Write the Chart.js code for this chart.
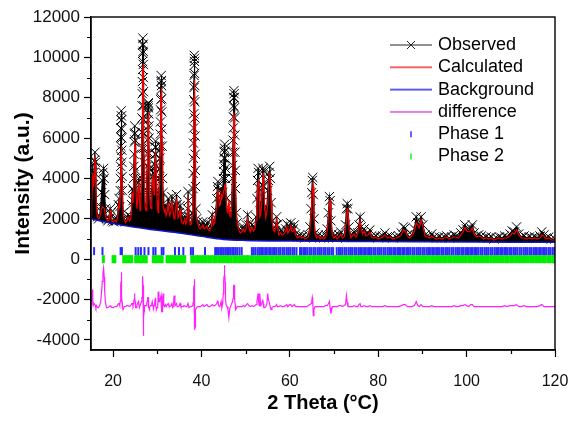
<!DOCTYPE html>
<html><head><meta charset="utf-8">
<script src="https://cdn.jsdelivr.net/npm/chart.js@4/dist/chart.umd.min.js"></script>
<style>html,body{margin:0;padding:0;background:#fff;}canvas{display:block;}</style>
</head><body>
<canvas id="c" width="571" height="424"></canvas>
<script>
// ---- data ----
const twoTheta = [
15.0,15.15,15.3,15.4,15.5,15.6,15.7,15.8,15.9,16.0,
16.1,16.25,16.45,16.7,16.95,17.2,17.4,17.55,17.7,17.85,
18.0,18.1,18.25,18.5,18.8,19.1,19.35,19.5,19.75,20.1,
20.4,20.7,21.0,21.2,21.35,21.5,21.6,21.65,21.7,21.725,21.75,21.775,21.8,21.825,
21.85,21.875,21.9,21.925,21.95,21.975,22.0,22.05,22.1,22.25,22.5,22.8,23.1,23.4,
23.7,24.0,24.2,24.35,24.5,24.6,24.65,24.7,24.75,24.8,24.85,24.9,24.95,25.0,
25.1,25.25,25.4,25.55,25.7,25.8,25.95,26.1,26.25,26.4,
26.48,26.515,26.55,26.575,26.6,26.625,26.65,26.675,26.7,26.725,26.75,26.775,26.8,26.825,26.85,26.875,26.9,26.925,26.95,26.975,
27.0,27.1,27.25,27.45,27.6,27.65,27.7,27.74,27.78,27.815,27.85,27.885,27.92,27.95,27.98,
28.015,28.05,28.085,28.12,28.16,28.2,28.3,28.45,28.6,28.75,28.85,28.95,29.05,
29.15,29.3,29.4,29.45,29.5,29.55,29.6,29.65,29.7,29.75,29.8,29.95,30.1,30.22,
30.35,30.5,30.55,30.6,30.64,30.68,30.715,30.75,30.785,30.82,30.85,30.88,30.915,30.95,30.985,31.02,31.06,31.1,
31.2,31.3,31.45,31.65,31.8,32.0,32.25,32.45,32.6,32.85,
33.1,33.3,33.45,33.65,33.8,34.0,34.2,34.35,34.5,34.7,
34.95,35.15,35.35,35.6,35.85,36.05,36.2,36.45,36.7,36.85,
36.95,37.05,37.2,37.45,37.75,37.95,38.08,38.12,38.16,38.19,38.22,38.245,38.27,38.295,
38.32,38.345,38.37,38.395,38.42,38.445,38.47,38.495,38.52,38.55,38.58,38.615,38.65,38.75,38.9,39.15,
39.45,39.75,40.05,40.3,40.6,40.9,41.25,41.55,41.9,42.2,
42.45,42.7,43.0,43.25,43.45,43.6,43.72,43.85,44.05,44.25,
44.45,44.6,44.8,44.95,45.0,45.05,45.1,45.15,45.2,45.25,45.3,45.35,45.4,45.45,45.6,
45.8,46.0,46.2,46.4,46.65,46.85,47.0,47.05,47.1,47.14,47.18,47.22,47.26,47.3,
47.34,47.38,47.42,47.46,47.5,47.54,47.58,47.64,47.7,47.85,48.1,48.45,48.8,49.15,
49.45,49.8,50.15,50.45,50.7,51.05,51.4,51.75,52.1,52.35,
52.55,52.68,52.8,52.92,53.05,53.2,53.4,53.6,53.75,53.88,
54.0,54.12,54.3,54.55,54.8,55.0,55.15,55.3,55.45,55.6,
55.75,55.95,56.25,56.6,56.85,57.0,57.15,57.5,57.9,58.25,
58.65,59.05,59.3,59.55,59.95,60.2,60.5,60.8,61.0,61.3,
61.75,62.2,62.6,63.0,63.4,63.8,64.2,64.55,64.8,64.95,
65.08,65.18,65.3,65.45,65.7,66.05,66.45,66.85,67.25,67.7,
68.1,68.45,68.75,68.95,69.1,69.3,69.6,69.95,70.3,70.7,
71.1,71.5,71.9,72.3,72.6,72.8,72.98,73.15,73.4,73.8,
74.2,74.55,74.95,75.35,75.65,75.88,76.1,76.45,76.8,77.2,
77.65,78.1,78.5,79.0,79.5,80.0,80.5,81.0,81.5,82.0,
82.7,83.3,84.0,84.6,85.2,85.7,86.1,86.6,87.1,87.6,
88.2,88.6,88.95,89.3,89.7,90.1,90.6,91.1,91.6,92.1,
92.6,93.2,93.8,94.4,95.0,95.5,96.0,96.6,97.2,97.6,
98.2,98.7,99.2,99.6,100.0,100.5,100.9,101.3,101.7,102.2,
102.7,103.3,103.8,104.4,105.0,105.6,106.2,106.8,107.4,108.0,
108.6,109.2,109.8,110.3,110.8,111.3,111.8,112.4,113.0,113.6,
114.2,114.8,115.4,116.0,116.6,117.0,117.5,118.0,118.6,119.2,
120.0];
const observed = [
2300,3000,4400,4700,4100,3700,4300,4900,5300,4800,
3600,2600,2100,2000,2150,2600,3300,3900,4300,4500,
4000,3200,2500,2000,1900,2000,2500,2300,1900,1850,
2000,1900,2100,2700,3000,2600,3400,4000,4600,5100,5600,6050,6500,6900,
7350,7100,6900,6450,6000,5400,4800,4100,3400,2300,2000,1850,2000,2200,
1950,2100,2700,3500,2900,3400,4000,4600,5200,5800,6200,6600,6250,5900,
4400,3000,2600,3100,3800,4000,3000,2500,2800,4000,
5500,6300,7000,7600,8200,8800,9400,9800,10200,10600,10950,10650,10300,9650,9000,8300,7600,6900,6200,5500,
4800,3400,2700,2500,3300,3950,4600,5250,5900,6400,6900,7250,7600,7700,7750,
7500,7200,6600,6000,5250,4500,3300,2700,2600,3300,4100,4500,4100,
3500,3300,4200,4700,5200,5550,5850,5550,5200,4600,4000,2900,2500,3100,
3300,4000,4500,5000,5600,6200,6800,7400,7900,8400,8800,9100,8850,8600,7950,7300,6450,5600,
4000,3300,2600,2400,2600,2200,2500,3000,2500,2200,
2500,3100,2600,2300,2600,2200,2700,3200,2700,2100,
2300,2650,2100,1850,1800,2000,2150,1800,1900,2500,
3350,2900,2100,1750,1800,2300,3500,4250,5000,5750,6500,7200,7900,8500,
9100,9600,10100,9950,9800,9200,8600,7800,7000,6100,5200,4400,3600,2500,2000,1850,
1600,1550,1700,1850,1550,1650,1800,1500,1450,1700,
2200,1800,1900,2400,3000,3600,3850,3400,2700,2800,
3500,3000,3300,4000,4350,4700,5000,5300,5500,5700,5350,5000,4500,4000,3000,
2400,2200,2400,2100,2200,2800,4000,4650,5300,5900,6500,7050,7600,8000,
8350,8200,8000,7500,7000,6150,5300,4400,3500,2300,1800,1500,1350,1400,
1600,1400,1700,2200,1700,1400,1700,1450,1600,2100,
3000,3900,4500,4300,3500,2800,2300,2800,3700,4500,
4400,3600,2500,2100,2600,3400,3900,4300,4600,4000,
2800,1900,1500,1400,1700,2100,1700,1250,1400,1250,
1300,1500,1750,1350,1600,1800,1400,1500,1700,1250,
1100,1200,1100,1150,1050,1100,1200,1600,2500,3300,
3900,4050,3200,2000,1300,1100,1200,1050,1150,1050,
1200,1500,2300,3100,2900,1900,1250,1100,1200,1050,
1200,1350,1100,1200,1700,2500,2750,2500,1600,1100,
1200,1350,1150,1300,1700,2100,1600,1300,1500,1200,
1250,1450,1150,1100,1150,1050,1100,1150,1300,1100,
1150,1050,1100,1150,1300,1600,1550,1200,1100,1200,
1500,2100,1800,1600,2100,1700,1200,1150,1100,1250,
1100,1050,1100,1050,1100,1150,1050,1100,1200,1150,
1100,1300,1450,1700,1500,1400,1550,1700,1300,1150,
1200,1150,1050,1100,1050,1100,1000,1050,1100,1050,
1150,1100,1250,1400,1350,1600,1250,1100,1150,1050,
1100,1050,1100,1050,1150,1350,1200,1050,1100,1000,
1000];
const calculated = [
2150,2700,3600,4300,4000,3600,4100,4700,5100,4700,
3600,2500,2100,2000,2050,2300,2500,2600,2600,2550,
2500,2400,2200,2000,1900,1950,2400,2250,1880,1850,
1950,1850,2000,2500,2800,2500,3100,3550,4000,4350,4700,4950,5200,5400,
5600,5550,5500,5250,5000,4650,4300,3850,3400,2400,1950,1800,1900,2100,
1900,2000,2500,3300,2800,3200,3750,4300,4800,5300,5600,5900,5750,5600,
4400,3000,2500,2900,3500,3800,3000,2400,2700,3700,
5100,5800,6500,7100,7700,8300,8900,9100,9300,9350,9400,9550,9700,9650,9600,9300,9000,8000,7000,6000,
5000,3300,2600,2400,3100,3700,4300,4900,5500,5950,6400,6750,7100,7200,7300,
7150,7000,6500,6000,5300,4600,3300,2600,2500,3100,3800,4200,4000,
3500,3200,3900,4350,4800,5100,5400,5300,5100,4600,4100,2900,2450,2300,
3000,3700,4150,4600,5150,5700,6300,6900,7400,7900,8200,8500,8450,8400,7950,7500,6650,5800,
4000,2600,2500,2350,2450,2150,2350,2800,2400,2150,
2400,2900,2600,2250,2000,2100,2550,3000,2650,2050,
2200,2450,2050,1800,1750,1900,2050,1750,1850,2350,
3100,2800,2100,1700,1750,2200,3300,4000,4700,5350,6000,6550,7100,7600,
8100,8450,8800,8850,8900,8800,8700,8500,8300,7150,6000,4950,3900,2600,2000,1800,
1550,1500,1600,1700,1500,1550,1650,1450,1400,1600,
2050,1700,1800,2250,2800,3300,3500,3300,2650,2700,
3200,3000,3100,3300,3350,3400,3450,3500,3550,3600,3650,3700,3650,3600,2900,
2350,2300,2900,2150,2100,2600,3700,4300,4900,5450,6000,6450,6900,7100,
7250,7100,6900,6400,5900,5400,4900,4250,3600,2350,1750,1450,1300,1350,
1500,1350,1550,2000,1600,1350,1600,1400,1500,1950,
2700,3400,3800,4000,3400,2100,2200,2650,3400,4100,
4200,3600,2500,2050,2400,2700,3500,4000,4300,4000,
2900,1900,1450,1350,1600,1950,1650,1200,1300,1200,
1250,1400,1600,1300,1450,1650,1350,1400,1550,1200,
1050,1150,1050,1100,1000,1050,1100,1450,2300,3000,
3400,3700,3600,2100,1250,1050,1150,1000,1100,1000,
1100,1400,2100,2800,2900,2200,1200,1050,1150,1000,
1100,1250,1050,1100,1550,1900,2500,2450,1550,1050,
1150,1250,1100,1250,1550,1900,1550,1250,1400,1150,
1200,1350,1100,1050,1100,1000,1050,1100,1200,1050,
1100,1000,1050,1100,1200,1450,1400,1150,1050,1150,
1400,1800,1700,1550,1950,1650,1150,1100,1050,1150,
1050,1000,1050,1000,1050,1100,1000,1050,1100,1100,
1050,1200,1350,1550,1400,1350,1400,1550,1250,1100,
1150,1100,1000,1050,1000,1050,950,1000,1050,1000,
1050,1050,1150,1300,1250,1450,1200,1050,1050,1000,
1050,1000,1050,1000,1050,1200,1150,1000,1050,950,
950];
const difference = [
-2250,-2100,-1500,-2000,-2300,-2300,-2200,-2200,-2200,-2300,
-2400,-2300,-2400,-2400,-2300,-2100,-1600,-1100,-700,-450,
-900,-1600,-2100,-2400,-2400,-2350,-2300,-2350,-2380,-2400,
-2350,-2350,-2300,-2200,-2200,-2300,-2100,-1950,-1800,-1650,-1500,-1300,-1100,-900,
-650,-850,-1000,-1200,-1400,-1650,-1900,-2150,-2400,-2500,-2350,-2350,-2300,-2300,
-2350,-2300,-2200,-2200,-2300,-2200,-2150,-2100,-2000,-1900,-1800,-1700,-1900,-2100,
-2400,-2400,-2300,-2200,-2100,-2200,-2400,-2300,-2300,-2100,
-2000,-1900,-1900,-1900,-1900,-1900,-1900,-1700,-1500,-1150,-850,-1300,-1800,-2400,-3000,-3400,-3800,-3500,-3200,-2900,
-2600,-2300,-2300,-2300,-2200,-2150,-2100,-2050,-2000,-1950,-1900,-1900,-1900,-1900,-1950,
-2050,-2200,-2300,-2400,-2450,-2500,-2400,-2300,-2300,-2200,-2100,-2100,-2300,
-2400,-2300,-2100,-2050,-2000,-1950,-1950,-2150,-2300,-2400,-2500,-2400,-2350,-1600,
-2100,-2100,-2050,-2000,-1950,-1900,-1900,-1900,-1900,-1900,-1800,-1800,-2000,-2200,-2400,-2600,-2600,-2600,
-2400,-1700,-2300,-2350,-2250,-2350,-2250,-2200,-2300,-2350,
-2300,-2200,-2400,-2350,-1800,-2300,-2250,-2200,-2350,-2350,
-2300,-2200,-2350,-2350,-2350,-2300,-2300,-2350,-2350,-2250,
-2150,-2300,-2400,-2350,-2350,-2300,-2200,-2150,-2100,-2000,-1900,-1750,-1600,-1450,
-1300,-1150,-1000,-1250,-1500,-2000,-2500,-3100,-3500,-3350,-3200,-2950,-2700,-2500,-2400,-2350,
-2350,-2350,-2300,-2250,-2350,-2300,-2250,-2350,-2350,-2300,
-2250,-2300,-2300,-2250,-2200,-2100,-2050,-2300,-2350,-2300,
-2100,-2400,-2200,-1700,-1400,-1100,-850,-600,-450,-300,-700,-1100,-1550,-2000,-2300,
-2350,-2500,-2900,-2450,-2300,-2200,-2100,-2050,-2000,-1950,-1900,-1800,-1700,-1500,
-1300,-1300,-1300,-1300,-1300,-1650,-2000,-2250,-2500,-2450,-2350,-2350,-2350,-2350,
-2300,-2350,-2250,-2200,-2300,-2350,-2300,-2350,-2300,-2250,
-2100,-1900,-1700,-2100,-2300,-1700,-2300,-2250,-2100,-2000,
-2200,-2400,-2400,-2350,-2200,-1700,-2000,-2100,-2100,-2400,
-2500,-2400,-2350,-2350,-2300,-2250,-2350,-2350,-2300,-2350,
-2350,-2300,-2250,-2350,-2250,-2250,-2350,-2300,-2250,-2350,
-2350,-2350,-2350,-2350,-2350,-2350,-2300,-2250,-2200,-2100,
-1900,-2050,-2800,-2500,-2350,-2350,-2350,-2350,-2350,-2350,
-2300,-2300,-2200,-2100,-2400,-2700,-2350,-2350,-2350,-2350,
-2300,-2300,-2350,-2300,-2250,-1800,-2150,-2350,-2350,-2350,
-2350,-2300,-2350,-2350,-2250,-2200,-2350,-2350,-2300,-2350,
-2350,-2300,-2350,-2350,-2350,-2350,-2350,-2350,-2300,-2350,
-2350,-2350,-2350,-2350,-2300,-2250,-2250,-2350,-2350,-2350,
-2300,-2100,-2300,-2350,-2250,-2350,-2350,-2350,-2350,-2300,
-2350,-2350,-2350,-2350,-2350,-2350,-2350,-2350,-2300,-2350,
-2350,-2300,-2300,-2250,-2300,-2350,-2250,-2250,-2350,-2350,
-2350,-2350,-2350,-2350,-2350,-2350,-2350,-2350,-2350,-2350,
-2300,-2350,-2300,-2300,-2300,-2250,-2350,-2350,-2300,-2350,
-2350,-2350,-2350,-2350,-2300,-2250,-2350,-2350,-2350,-2350,
-2350];
const bgTheta = [15,20,25,30,35,40,45,50,60,70,80,90,100,110,120];
const background = [2000,1770,1580,1430,1300,1130,980,930,900,885,870,860,850,840,835];
const phase1Theta = [15.7,17.6,21.7,22.0,25.1,25.7,26.3,27.1,28.0,29.1,29.6,31.0,31.4,34.0,34.9,35.9,37.6,38.1,40.8,
43.1,43.5,43.9,44.3,44.6,45.0,45.4,45.8,46.2,46.6,47.0,47.3,47.7,48.1,48.6,49.1,
51.4,51.8,52.2,52.7,53.1,53.5,53.9,54.4,54.8,55.3,55.7,56.2,56.6,57.0,57.5,57.9,58.4,58.8,59.3,59.7,
60.1,60.6,61.0,61.5,62.3,62.7,63.2,63.6,64.0,64.5,64.9,65.4,65.8,66.3,66.7,67.1,67.6,68.0,68.5,68.9,
69.4,69.8,70.6,71.1,71.5,71.9,72.4,72.8,73.3,73.7,74.1,74.6,75.0,75.5,75.9,76.3,76.8,77.2,77.7,78.1,
78.5,79.0,79.4,79.9,80.3,80.7,81.2,81.6,82.1,82.5,82.9,83.4,83.8,84.3,84.7,85.1,85.6,86.0,86.5,86.9,
87.3,87.8,88.2,88.7,89.1,89.5,90.0,90.4,90.9,91.3,91.7,92.2,92.6,93.1,93.5,93.9,94.4,94.8,95.3,95.7,
96.1,96.6,97.0,97.5,97.9,98.3,98.8,99.2,99.7,100.1,100.5,101.0,101.4,101.9,102.3,102.7,103.2,103.6,104.1,
104.5,104.9,105.4,105.8,106.3,106.7,107.1,107.6,108.0,108.5,108.9,109.3,109.8,110.2,110.7,111.1,111.5,
112.0,112.4,112.9,113.3,113.7,114.2,114.6,115.1,115.5,115.9,116.4,116.8,117.3,117.7,118.1,118.6,119.0,119.5,119.9];
const phase2Theta = [17.8,20.0,20.4,22.4,22.9,23.3,23.8,24.2,25.1,25.5,26.0,26.5,27.0,27.5,29.1,29.6,30.1,30.6,31.1,
32.2,32.7,33.2,33.7,34.2,34.7,35.2,35.7,36.2,
37.8,38.3,38.9,39.4,40.0,40.6,41.1,41.7,42.2,42.8,43.3,43.9,44.5,45.0,45.6,46.1,46.7,47.3,47.8,48.4,
48.9,49.5,50.1,50.6,51.2,51.7,52.3,52.9,53.4,54.0,54.5,55.1,55.7,56.2,56.8,57.3,57.9,58.5,59.0,59.6,
60.1,60.7,61.3,61.8,62.4,62.9,63.5,64.1,64.6,65.2,65.7,66.3,66.9,67.4,68.0,68.5,69.1,69.7,70.2,70.8,
71.3,71.9,72.5,73.0,73.6,74.1,74.7,75.3,75.8,76.4,76.9,77.5,78.1,78.6,79.2,79.7,80.3,80.9,81.4,82.0,
82.5,83.1,83.7,84.2,84.8,85.3,85.9,86.5,87.0,87.6,88.1,88.7,89.3,89.8,90.4,90.9,91.5,92.1,92.6,93.2,
93.7,94.3,94.9,95.4,96.0,96.5,97.1,97.7,98.2,98.8,99.3,99.9,100.5,101.0,101.6,102.1,102.7,103.3,103.8,
104.4,104.9,105.5,106.1,106.6,107.2,107.7,108.3,108.9,109.4,110.0,110.5,111.1,111.7,112.2,112.8,113.3,
113.9,114.5,115.0,115.6,116.1,116.7,117.3,117.8,118.4,118.9,119.5,119.9];
const phase1Level = 400;
const phase2Level = 0;
const xMajor = [20,40,60,80,100,120];
const xMinor = [30,50,70,90,110];
const yMajor = [-4000,-2000,0,2000,4000,6000,8000,10000,12000];
const yMinor = [-3000,-1000,1000,3000,5000,7000,9000,11000];
const labels = ['Observed','Calculated','Background','difference','Phase 1','Phase 2'];

// ---- build ----
const FONT = "'Liberation Sans', Arial, Helvetica, sans-serif";
const C_OBS='#000000', C_CALC='#ee0000', C_BG='#1212d0', C_DIFF='#ff22ff', C_P1='#2a2aff', C_P2='#00ee00';

function sample(draw){const c=document.createElement('canvas');c.width=42;c.height=14;const g=c.getContext('2d');draw(g);return c;}
function hline(col,w){return sample(g=>{g.strokeStyle=col;g.lineWidth=w;g.beginPath();g.moveTo(0,7);g.lineTo(42,7);g.stroke();});}
function vtick(col,w){return sample(g=>{g.strokeStyle=col;g.lineWidth=w;g.beginPath();g.moveTo(21,4);g.lineTo(21,10);g.stroke();});}
const samples = [
  sample(g=>{g.strokeStyle='#222';g.lineWidth=1;g.beginPath();g.moveTo(0,7);g.lineTo(42,7);g.moveTo(17,3);g.lineTo(25,11);g.moveTo(25,3);g.lineTo(17,11);g.stroke();}),
  hline('#ee3030',1.6), hline('#2a2ae0',1.6), hline('#e050e0',1.6), vtick('#3030ff',1.5), vtick('#22ee22',1.5)
];

const pts = (xs, ys) => xs.map((x,i)=>({x, y: ys[i]}));
const flat = (xs, v) => xs.map(x=>({x, y: v}));

const framePlugin = {
  id: 'frame',
  afterLayout(chart){
    const lg = chart.legend; if(!lg) return;
    const pad = lg.options.labels.padding;
    lg.left = 393 - pad; lg.right = lg.left + lg.width;
    lg.top = 36 - pad; lg.bottom = lg.top + 300;
  },
  afterDraw(chart){
    const {ctx, chartArea:a, scales:{x,y}} = chart;
    ctx.save();
    ctx.strokeStyle='#000'; ctx.lineWidth=1.4;
    ctx.strokeRect(a.left, a.top, a.right-a.left, a.bottom-a.top);
    ctx.lineWidth=1.2; ctx.beginPath();
    yMinor.forEach(v=>{const p=Math.round(y.getPixelForValue(v))+0.5; ctx.moveTo(a.left-4,p); ctx.lineTo(a.left,p);});
    xMinor.forEach(v=>{const p=Math.round(x.getPixelForValue(v))+0.5; ctx.moveTo(p,a.bottom); ctx.lineTo(p,a.bottom+4);});
    ctx.stroke(); ctx.restore();
  }
};

new Chart(document.getElementById('c'), {
  type: 'line',
  data: { datasets: [
    { label: labels[0], data: pts(twoTheta, observed), borderColor: C_OBS, borderWidth: 1.2, backgroundColor: '#000',
      fill: {target: 2}, pointStyle: 'crossRot', pointRadius: 6.5, pointBorderWidth: 1, pointBorderColor: '#000', order: 10 },
    { label: labels[1], data: pts(twoTheta, calculated), borderColor: C_CALC, borderWidth: 1.2, pointRadius: 0, fill: false, order: 2 },
    { label: labels[2], data: pts(bgTheta, background), borderColor: C_BG, borderWidth: 1.5, pointRadius: 0, fill: false, cubicInterpolationMode: 'monotone', order: 1 },
    { label: labels[3], data: pts(twoTheta, difference), borderColor: C_DIFF, borderWidth: 1.2, pointRadius: 0, fill: false, order: 3 },
    { label: labels[4], data: flat(phase1Theta, phase1Level), showLine: false, pointStyle: 'line', rotation: 90, pointRadius: 4, pointBorderWidth: 2, pointBorderColor: C_P1, borderColor: C_P1, order: 4 },
    { label: labels[5], data: flat(phase2Theta, phase2Level), showLine: false, pointStyle: 'line', rotation: 90, pointRadius: 4, pointBorderWidth: 3, pointBorderColor: C_P2, borderColor: C_P2, order: 5 }
  ]},
  options: {
    responsive: false, animation: false, events: [],
    layout: { padding: { left: 0, right: 16, top: 17, bottom: 0 } },
    plugins: {
      tooltip: { enabled: false },
      legend: {
        position: 'chartArea', align: 'start',
        labels: {
          usePointStyle: true, pointStyleWidth: 36, padding: 4.3, color: '#000',
          font: { family: FONT, size: 18 },
          sort: (a,b) => a.datasetIndex - b.datasetIndex,
          generateLabels: (chart) => labels.map((t,i)=>({ text: t, datasetIndex: i, pointStyle: samples[i], fillStyle: 'transparent', strokeStyle: 'transparent', lineWidth: 0, hidden: false, fontColor: '#000' }))
        }
      }
    },
    scales: {
      x: {
        type: 'linear', min: 15, max: 120,
        afterFit: s => { s.height = 74; s.paddingRight = 0; s.paddingLeft = 0; },
        afterBuildTicks: s => { s.ticks = xMajor.map(v => ({ value: v })); },
        ticks: { autoSkip: false, maxRotation: 0, padding: 15, color: '#111', font: { family: FONT, size: 16 }, callback: v => String(v) },
        grid: { drawOnChartArea: false, tickLength: 7, tickWidth: 1.2, tickColor: '#000' },
        border: { color: '#000', width: 1.4 },
        title: { display: true, text: '2 Theta (°C)', color: '#000', font: { family: FONT, size: 20, weight: 'bold' }, padding: { top: 0, bottom: 9 } }
      },
      y: {
        type: 'linear', min: -4500, max: 12000,
        afterFit: s => { s.width = 91; s.paddingTop = 0; s.paddingBottom = 0; },
        afterBuildTicks: s => { s.ticks = yMajor.map(v => ({ value: v })); },
        ticks: { autoSkip: false, padding: 4, color: '#111', font: { family: FONT, size: 17 }, callback: v => String(v) },
        grid: { drawOnChartArea: false, tickLength: 7, tickWidth: 1.2, tickColor: '#000' },
        border: { color: '#000', width: 1.4 },
        title: { display: true, text: 'Intensity (a.u.)', color: '#000', font: { family: FONT, size: 21, weight: 'bold' }, padding: { top: 11, bottom: 0 } }
      }
    }
  },
  plugins: [framePlugin]
});
</script>
</body></html>
